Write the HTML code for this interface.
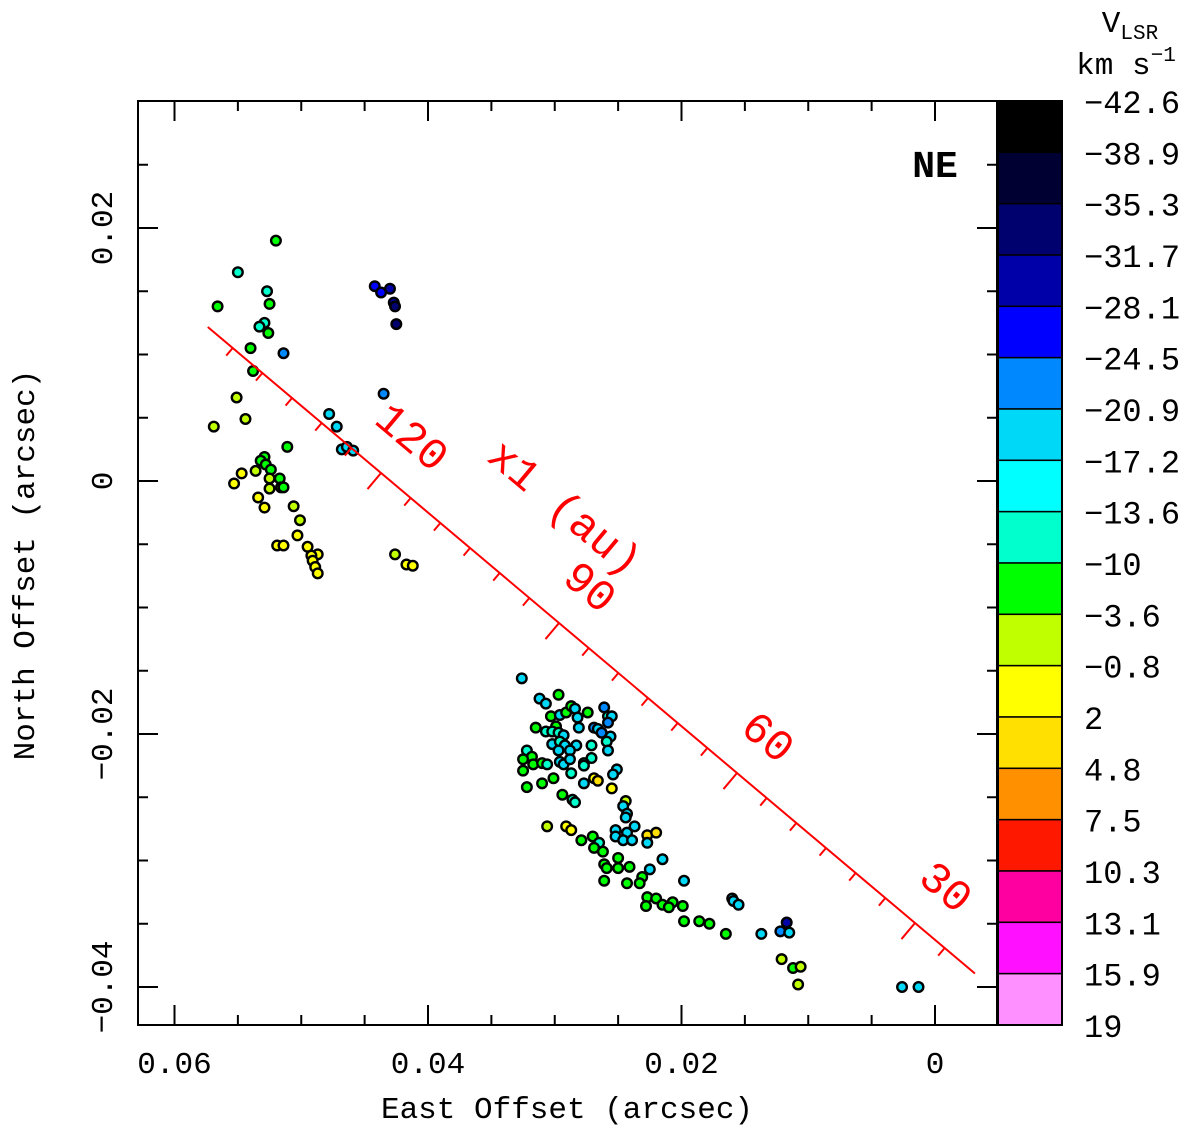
<!DOCTYPE html>
<html><head><meta charset="utf-8"><style>
html,body{margin:0;padding:0;background:#fff;}
svg{display:block;font-family:"Liberation Mono",monospace;}
</style></head><body>
<svg id="chart" width="1200" height="1132" viewBox="0 0 1200 1132" xmlns="http://www.w3.org/2000/svg">
<rect x="0" y="0" width="1200" height="1132" fill="#fff"/>
<g id="pts"></g>
<g id="redaxis"></g>
<g id="frame"></g>
<g id="cbar"></g>
<text x="935" y="177" font-size="38" font-weight="bold" text-anchor="middle">NE</text>
<text x="567" y="1118" font-size="31" text-anchor="middle">East Offset (arcsec)</text>
<text transform="translate(34,565) rotate(-90)" font-size="31" text-anchor="middle">North Offset (arcsec)</text>
<text x="1130" y="32" font-size="31" text-anchor="middle">V<tspan font-size="21" dy="7">LSR</tspan></text>
<text x="1126" y="74" font-size="31" text-anchor="middle">km s<tspan font-size="21" dy="-13">−1</tspan></text>
</svg>
<script>
// data (east/north in milliarcsec, velocity in km/s)
const eastMas = [52.0,55.0,44.2,43.7,43.0,42.7,42.6,42.5,52.7,56.6,52.5,52.9,53.3,52.6,54.0,51.4,53.8,43.5,55.1,54.4,56.9,47.8,47.2,46.8,46.4,45.9,51.1,52.9,53.2,52.8,52.4,53.6,54.7,55.3,52.5,51.7,51.6,51.4,52.5,53.4,52.9,50.6,50.1,50.3,51.9,51.4,49.5,48.7,49.2,49.1,48.9,48.7,42.6,41.7,41.2,
32.6,31.2,30.7,29.7,30.3,29.6,29.1,28.7,28.4,27.4,28.2,29.9,31.5,30.7,30.2,29.7,29.3,28.1,26.1,25.8,25.5,25.8,26.9,26.6,26.3,25.6,25.9,30.2,29.6,29.2,28.3,28.8,29.7,27.1,25.8,32.2,31.8,32.5,31.7,31.0,30.6,29.6,29.3,28.8,27.1,27.7,27.7,25.1,25.4,28.7,32.5,30.1,31.0,32.2,26.9,26.6,27.7,25.5,29.4,28.6,28.4,24.4,24.6,24.3,24.4,30.6,29.1,28.7,25.2,23.7,24.3,25.2,24.6,23.9,22.7,22.0,22.7,27.9,27.0,26.5,26.9,26.2,25.0,21.5,26.1,25.9,25.0,24.1,22.5,26.1,24.3,23.1,19.8,23.3,
19.8,18.6,17.8,16.5,13.7,22.7,22.0,21.5,20.7,19.9,22.8,21.0,16.0,15.9,15.5,11.7,12.2,11.5,12.1,11.2,10.6,10.8,2.6,1.3];
const northMas = [19.0,16.5,15.4,14.9,15.2,14.1,13.8,12.4,15.0,13.8,14.0,12.5,12.2,11.7,10.5,10.1,8.7,6.9,6.6,4.9,4.3,5.3,4.3,2.5,2.7,2.4,2.7,1.9,1.6,1.3,0.9,0.8,0.6,-0.2,0.2,0.2,-0.5,-0.5,-0.6,-1.3,-2.1,-2.0,-3.1,-4.3,-5.1,-5.1,-5.2,-5.8,-5.9,-6.3,-6.8,-7.3,-5.8,-6.6,-6.7,
-15.6,-17.2,-17.6,-16.9,-18.6,-18.5,-18.3,-17.8,-18.0,-18.3,-18.7,-19.4,-19.5,-19.8,-19.8,-19.9,-20.1,-19.5,-17.9,-18.6,-18.6,-19.1,-19.5,-19.6,-19.9,-20.2,-20.6,-20.8,-20.6,-20.9,-20.9,-21.3,-21.3,-20.9,-21.3,-21.3,-21.8,-22.0,-22.4,-22.3,-22.4,-22.2,-22.4,-22.0,-21.9,-22.3,-22.5,-22.8,-23.2,-23.1,-22.9,-23.5,-23.9,-24.2,-23.5,-23.7,-23.9,-24.3,-24.8,-25.2,-25.4,-25.3,-25.7,-26.3,-26.6,-27.3,-27.3,-27.6,-27.6,-27.3,-27.8,-28.1,-28.4,-28.4,-28.0,-27.8,-28.6,-28.4,-28.1,-28.6,-29.0,-29.3,-29.8,-29.9,-30.3,-30.6,-30.6,-30.5,-30.7,-31.6,-31.8,-31.3,-31.6,-31.8,
-34.8,-34.8,-35.0,-35.8,-35.8,-32.9,-33.0,-33.5,-33.3,-33.6,-33.6,-33.7,-33.0,-33.2,-33.5,-34.9,-35.6,-35.7,-37.8,-38.5,-38.4,-39.8,-40.0,-40.0];
const velocity = [-7,-12,-27,-27,-30,-30,-34,-34,-12,-7,-7,-12,-12,-7,-7,-23,-7,-23,-2,-2,-2,-19,-19,-19,-19,-19,-7,-7,-7,-7,-7,-2,0.5,0.5,-2,-7,-7,-7,-2,0.5,0.5,-2,-2,0.5,0.5,0.5,0.5,0.5,0.5,0.5,0.5,0.5,-2,0.5,0.5,
-19,-19,-19,-7,-7,-19,-7,-7,-19,-7,-19,-7,-7,-12,-12,-12,-19,-19,-23,-12,-19,-23,-23,-19,-23,-19,-12,-19,-12,-19,-19,-19,-19,-12,-19,-12,-7,-7,-7,-7,-12,-19,-19,-19,-12,-12,-12,-19,-19,-12,-7,-7,-7,-7,0.5,3,-19,0.5,-7,-12,-12,-2,-19,-19,-19,-2,0.5,0.5,-19,-19,-19,-19,-19,-19,3,3,-19,-7,-7,-12,-7,-7,-7,-19,-7,-7,-7,-7,-19,-7,-7,-7,-19,-7,
-7,-7,-7,-7,-19,-7,-7,-7,-7,-7,-7,-7,-19,-19,-19,-30,-23,-19,-2,-7,-2,-2,-19,-19];
const cbarLabels = ["−42.6","−38.9","−35.3","−31.7","−28.1","−24.5","−20.9","−17.2","−13.6","−10","−3.6","−0.8","2","4.8","7.5","10.3","13.1","15.9","19"];
const cbarEdges = [-42.6,-38.9,-35.3,-31.7,-28.1,-24.5,-20.9,-17.2,-13.6,-10,-3.6,-0.8,2,4.8,7.5,10.3,13.1,15.9,19];
const cbarColors = ["#000000","#000033","#00006e","#0000a8","#0000ff","#0088ff","#00d8f8","#00ffff","#00ffcc","#00ff00","#c0ff00","#ffff00","#ffe000","#ff9000","#ff1800","#ff00a0","#ff10ff","#ff90ff"];
const xTicks = [0.06,0.04,0.02,0];
const xTickLabels = ["0.06","0.04","0.02","0"];
const yTicks = [0.02,0,-0.02,-0.04];
const yTickLabels = ["0.02","0","−0.02","−0.04"];
const auMajor = [120,90,60,30];
const auRange = [149.2,19.9];

const NS="http://www.w3.org/2000/svg";
const L=138,R=997,T=101,B=1025;
const X0=935,XS=12675,Y0=481,YS=12650;
function sx(v){return X0 - v*XS;}
function sy(v){return Y0 - v*YS;}
function mk(tag,attrs,parent){const e=document.createElementNS(NS,tag);for(const k in attrs)e.setAttribute(k,attrs[k]);parent.appendChild(e);return e;}
function colorFor(v){for(let i=0;i<cbarColors.length;i++){if(v<=cbarEdges[i+1])return cbarColors[i];}return cbarColors[cbarColors.length-1];}

// red x1 axis
const ra=document.getElementById('redaxis');
function auPt(a){return [915+(30-a)*5.933, 923+(30-a)*5.0];}
const p0=auPt(auRange[0]),p1=auPt(auRange[1]);
const rl=mk('line',{x1:p0[0],y1:p0[1],x2:p1[0],y2:p1[1],stroke:'#ff0000','stroke-width':2},ra);


const px=-0.644,py=0.764;
for(let a=25;a<=145;a+=5){
  const p=auPt(a);const maj=auMajor.indexOf(a)>=0;const len=maj?21:10;
  const t=mk('line',{x1:p[0],y1:p[1],x2:p[0]+px*len,y2:p[1]+py*len,stroke:'#ff0000','stroke-width':2},ra);
  
  
}
auMajor.forEach(a=>{
  const p=auPt(a);const lx=p[0]+31,ly=p[1]-36;
  const t=mk('text',{x:0,y:14,transform:`translate(${lx},${ly}) rotate(40)`,'font-size':44,fill:'#ff0000','text-anchor':'middle'},ra);
  t.textContent=String(a);
  
  
});
const xt=mk('text',{x:0,y:14,transform:'translate(565,508) rotate(40)','font-size':44,fill:'#ff0000','text-anchor':'middle'},ra);
xt.textContent='x1 (au)';



// points
const pg=document.getElementById('pts');
for(let i=0;i<eastMas.length;i++){
  const c=mk('circle',{cx:sx(eastMas[i]/1000),cy:sy(northMas[i]/1000),r:4.8,fill:colorFor(velocity[i]),stroke:'#000','stroke-width':2.4},pg);
  
  
}

// frame
const fg=document.getElementById('frame');
const fr=mk('rect',{x:L,y:T,width:R-L,height:B-T,fill:'none',stroke:'#000','stroke-width':2},fg);


for(let k=-1;k<=13;k++){
  const v=k*0.005;const x=sx(v);if(x<L+1||x>R-1)continue;
  const maj=(k%4===0);const len=maj?20:10;
  mk('line',{x1:x,y1:B,x2:x,y2:B-len,stroke:'#000','stroke-width':2},fg);
  mk('line',{x1:x,y1:T,x2:x,y2:T+len,stroke:'#000','stroke-width':2},fg);
}
for(let k=-9;k<=6;k++){
  const v=k*0.005;const y=sy(v);if(y<T+1||y>B-1)continue;
  const maj=(k%4===0);const len=maj?20:10;
  mk('line',{x1:L,y1:y,x2:L+len,y2:y,stroke:'#000','stroke-width':2},fg);
  mk('line',{x1:R,y1:y,x2:R-len,y2:y,stroke:'#000','stroke-width':2},fg);
}
xTicks.forEach((v,i)=>{
  const t=mk('text',{x:sx(v),y:1073,'font-size':31,'text-anchor':'middle'},fg);
  t.textContent=xTickLabels[i];
  
  
});
yTicks.forEach((v,i)=>{
  const t=mk('text',{x:0,y:0,transform:`translate(112,${sy(v)}) rotate(-90)`,'font-size':31,'text-anchor':'middle'},fg);
  t.textContent=yTickLabels[i];
  
  
});

// colorbar
const cg=document.getElementById('cbar');
const CX=998,CW=64,n=cbarColors.length,bh=(B-T)/n;
for(let i=0;i<n;i++){
  const r=mk('rect',{x:CX,y:T+i*bh,width:CW,height:bh,fill:cbarColors[i],stroke:'#000','stroke-width':1.5},cg);
  
  
}
mk('rect',{x:CX,y:T,width:CW,height:B-T,fill:'none',stroke:'#000','stroke-width':2},cg);
cbarLabels.forEach((s,i)=>{
  const t=mk('text',{x:1084,y:T+i*bh+12,'font-size':32},cg);
  t.textContent=s;
  
  
});
</script>
</body></html>
